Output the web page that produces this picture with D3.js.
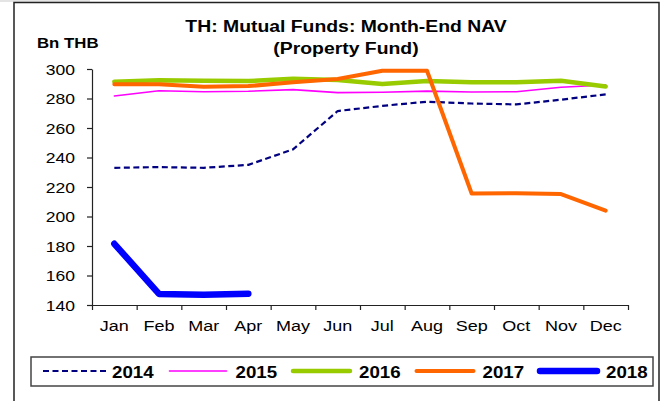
<!DOCTYPE html>
<html>
<head>
<meta charset="utf-8">
<script src="https://cdn.jsdelivr.net/npm/d3@7"></script>
<style>
  html, body { margin: 0; padding: 0; background: #fff; }
  svg { display: block; font-family: "Liberation Sans", Arial, sans-serif; }
</style>
</head>
<body>
<svg id="chart" width="669" height="401"></svg>
<script>
// Month-end NAV of Thai property funds, billions of baht
const months = ["Jan", "Feb", "Mar", "Apr", "May", "Jun", "Jul", "Aug", "Sep", "Oct", "Nov", "Dec"];
const years = ["2014", "2015", "2016", "2017", "2018"];
const nav2014 = [233, 233.5, 233, 235, 245.5, 271.5, 275, 277.8, 276.6, 276, 279.2, 282.8];
const nav2015 = [281.7, 285.3, 284.6, 284.9, 286, 284, 284.2, 285, 284.4, 284.6, 287.6, 289.2];
const nav2016 = [291.4, 292.3, 292.1, 291.8, 293.4, 292.5, 289.8, 291.8, 291, 291, 292, 288.2];
const nav2017 = [289.6, 289.6, 288, 288.4, 291, 293.2, 298.8, 298.8, 215.6, 215.8, 215.2, 204];
const nav2018 = [181.5, 147.5, 147, 147.6];
const yTicks = [140, 160, 180, 200, 220, 240, 260, 280, 300];

const seriesValues = [nav2014, nav2015, nav2016, nav2017, nav2018];
const styles = [
  { color: "#000080", width: 2.2, dash: "6,3.5" },
  { color: "#ff00ff", width: 1.6, dash: null },
  { color: "#99cc00", width: 4.5, dash: null },
  { color: "#ff6600", width: 4, dash: null },
  { color: "#0000ff", width: 6.5, dash: null }
];

const svg = d3.select("#chart");
const SX = 1.17; // horizontal text stretch

function stretchedText(g, x, y, str, opts) {
  return g.append("text")
    .attr("transform", `translate(${x},${y}) scale(${opts.sx || SX},1)`)
    .attr("text-anchor", opts.anchor || "start")
    .attr("font-size", opts.size)
    .attr("font-weight", opts.weight || "normal")
    .attr("fill", "#000")
    .text(str);
}

// outer frame
svg.append("rect").attr("x", 0).attr("y", 0).attr("width", 90).attr("height", 2).attr("fill", "#e4e4e4");
svg.append("rect")
  .attr("x", 14).attr("y", 2.5).attr("width", 645).attr("height", 400)
  .attr("fill", "#fff").attr("stroke", "#222").attr("stroke-width", 1.5);

const plot = { left: 92, right: 628, top: 69, bottom: 305 };

const x = d3.scaleBand().domain(months).range([plot.left, plot.right]);
const xEdge = d3.scaleLinear().domain([0, 12]).range([plot.left, plot.right]);
const y = d3.scaleLinear().domain([140, 300]).range([plot.bottom, plot.top]);

// title
stretchedText(svg, 346, 32, "TH: Mutual Funds: Month-End NAV", { size: 17, weight: "bold", anchor: "middle", sx: 1.14 });
stretchedText(svg, 346, 54, "(Property Fund)", { size: 17, weight: "bold", anchor: "middle", sx: 1.14 });
stretchedText(svg, 37, 48, "Bn THB", { size: 15, weight: "bold", sx: 1.12 });

// y axis
const yAxis = svg.append("g")
  .attr("transform", `translate(${plot.left},0)`)
  .call(d3.axisLeft(y).tickValues(yTicks).tickSize(5).tickSizeOuter(0).tickFormat(d3.format("d")));
yAxis.selectAll("path, line").attr("stroke", "#222").attr("stroke-width", 1.2);
yAxis.selectAll("text")
  .attr("x", null).attr("dy", "0.35em")
  .attr("transform", `translate(-17,0) scale(${SX},1)`)
  .attr("font-size", 15).attr("font-family", "Liberation Sans, Arial, sans-serif").attr("fill", "#000");

// x axis: tick marks between categories
const xAxis = svg.append("g")
  .attr("transform", `translate(0,${plot.bottom})`)
  .call(d3.axisBottom(xEdge).tickValues(d3.range(0, 13)).tickSize(5).tickSizeOuter(0).tickFormat(""));
xAxis.selectAll("path, line").attr("stroke", "#222").attr("stroke-width", 1.2);

// month labels
const xLabels = svg.append("g")
  .attr("transform", `translate(0,${plot.bottom})`)
  .call(d3.axisBottom(x).tickSize(0).tickPadding(0));
xLabels.select(".domain").remove();
xLabels.selectAll("text")
  .attr("y", null).attr("dy", null)
  .attr("transform", `translate(0,26) scale(1.2,1)`)
  .attr("font-size", 15).attr("font-family", "Liberation Sans, Arial, sans-serif").attr("fill", "#000");

// series lines
const line = d3.line()
  .x((d, i) => x(months[i]) + x.bandwidth() / 2)
  .y(d => y(d));

svg.append("g").selectAll("path")
  .data(seriesValues)
  .join("path")
  .attr("d", d => line(d))
  .attr("fill", "none")
  .attr("stroke", (d, i) => styles[i].color)
  .attr("stroke-width", (d, i) => styles[i].width)
  .attr("stroke-dasharray", (d, i) => styles[i].dash)
  .attr("stroke-linejoin", "round")
  .attr("stroke-linecap", (d, i) => styles[i].dash ? "butt" : "round");

// legend
const legend = svg.append("g");
legend.append("rect")
  .attr("x", 31).attr("y", 357).attr("width", 622).attr("height", 29)
  .attr("fill", "#fff").attr("stroke", "#444").attr("stroke-width", 1.5);

const legendX = d3.scaleLinear().domain([0, 1]).range([43, 166.5]);
years.forEach((yr, i) => {
  const x0 = legendX(i);
  const s = styles[i];
  legend.append("line")
    .attr("x1", x0 + (s.dash ? 0 : 3)).attr("x2", x0 + (s.dash ? 63 : 60))
    .attr("y1", 371).attr("y2", 371)
    .attr("stroke", s.color)
    .attr("stroke-width", s.width)
    .attr("stroke-dasharray", s.dash)
    .attr("stroke-linecap", s.dash ? "butt" : "round");
  stretchedText(legend, x0 + 69, 378, yr, { size: 16, weight: "bold" });
});
</script>
</body>
</html>
